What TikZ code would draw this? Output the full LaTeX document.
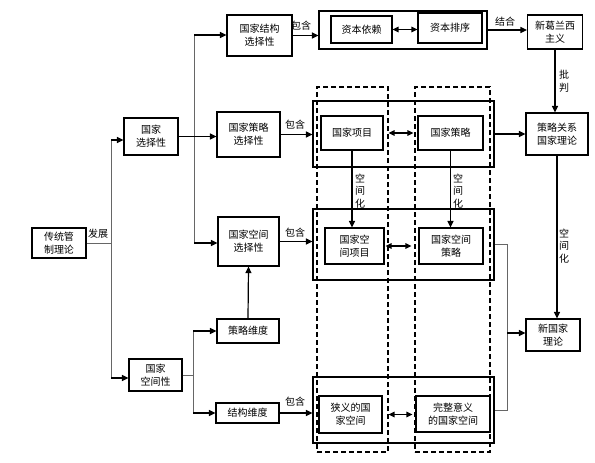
\documentclass[tikz,border=0pt]{standalone}
\usepackage{fontspec}
\setmainfont{Noto Sans CJK SC}
\usetikzlibrary{arrows.meta,calc}
\begin{document}
\begin{tikzpicture}[x=1pt,y=-1pt,
  box/.style={draw, line width=1.1pt, align=center, inner sep=0pt, font=\fontsize{10}{13}\selectfont},
  obox/.style={draw, line width=1.1pt, inner sep=0pt},
  dcol/.style={draw, line width=1.1pt, dash pattern=on 5pt off 3pt, inner sep=0pt},
  arr/.style={line width=1.2pt, -{Triangle[length=6.5pt,width=6pt]}},
  dbl/.style={line width=1.2pt, {Triangle[length=6pt,width=5.5pt]}-{Triangle[length=6pt,width=5.5pt]}},
  thinln/.style={draw=black!60, line width=0.7pt},
  lab/.style={font=\fontsize{10}{12}\selectfont, inner sep=0pt},
  vlab/.style={font=\fontsize{10}{12.5}\selectfont, inner sep=0pt, align=center}]
\useasboundingbox (0,0) rectangle (595,463);

% left part
\node[box, minimum width=54pt, minimum height=30pt] (trad) at (59,243) {传统管\\制理论};
\node[box, minimum width=54pt, minimum height=37pt] (gjxzx) at (151,136.5) {国家\\选择性};
\node[box, minimum width=53pt, minimum height=32pt] (gjkjx) at (155.5,375) {国家\\空间性};
\node[box, minimum width=65pt, minimum height=41pt] (jgxz) at (259.5,35.5) {国家结构\\选择性};
\node[box, minimum width=63pt, minimum height=45pt] (clxz) at (248.5,134.5) {国家策略\\选择性};
\node[box, minimum width=61pt, minimum height=49pt] (kjxz) at (248.5,241.5) {国家空间\\选择性};
\node[box, minimum width=62pt, minimum height=24pt] (clwd) at (248,331) {策略维度};
\node[box, minimum width=63pt, minimum height=20pt] (jgwd) at (247.5,413) {结构维度};

% outer boxes
\node[obox, minimum width=168pt, minimum height=38pt] (o1) at (403,30) {};
\node[obox, minimum width=181pt, minimum height=66pt] (o2) at (403.5,134) {};
\node[obox, minimum width=181pt, minimum height=71pt] (o3) at (403.5,244.5) {};
\node[obox, minimum width=181pt, minimum height=66pt] (o4) at (403.5,410) {};

% dashed columns
\node[dcol, minimum width=71pt, minimum height=365pt] (dc1) at (352.5,269.5) {};
\node[dcol, minimum width=75pt, minimum height=365pt] (dc2) at (452.5,269.5) {};

% inner boxes
\node[box, minimum width=61pt, minimum height=27pt] (zbyl) at (361.5,29.5) {资本依赖};
\node[box, minimum width=64pt, minimum height=30pt] (zbpx) at (450,28) {资本排序};
\node[box, minimum width=62pt, minimum height=34pt] (gjxm) at (352,133) {国家项目};
\node[box, minimum width=65pt, minimum height=34pt] (gjcl) at (450.5,133) {国家策略};
\node[box, minimum width=59pt, minimum height=36pt] (kjxm) at (354.5,246) {国家空\\间项目};
\node[box, minimum width=64pt, minimum height=36pt] (kjcl) at (451,246) {国家空间\\策略};
\node[box, minimum width=63pt, minimum height=37pt] (xy) at (350.5,414.5) {狭义的国\\家空间};
\node[box, minimum width=74pt, minimum height=36pt] (wz) at (453,414) {完整意义\\的国家空间};

% right part
\node[box, minimum width=55pt, minimum height=34pt] (xgl) at (555,32) {新葛兰西\\主义};
\node[box, minimum width=62pt, minimum height=42pt] (clgx) at (557,134) {策略关系\\国家理论};
\node[box, minimum width=54pt, minimum height=32pt] (xgj) at (553,335) {新国家\\理论};

% connectors left
\coordinate (j1) at (111,243);
\coordinate (j1t) at (111,140);
\coordinate (j1b) at (111,378);
\draw[thinln] (trad.east) -- (j1);
\draw[thinln] (j1t) -- (j1b);
\draw[arr] (j1t) -- (j1t -| gjxzx.west);
\draw[arr] (j1b) -- (j1b -| gjkjx.west);
\node[lab] (lfz) at (98,234) {发展};

\coordinate (j2t) at (194,35);
\coordinate (j2b) at (194,243);
\draw[thinln] (j2t) -- (j2b);
\draw[arr] (j2t) -- (j2t -| jgxz.west);
\draw[arr] (j2b) -- (j2b -| kjxz.west);
\draw[arr] (gjxzx.east) -- (gjxzx.east -| clxz.west);

\coordinate (j3) at (193,375);
\coordinate (j3t) at (193,331);
\coordinate (j3b) at (193,413);
\draw[thinln] (gjkjx.east) -- (j3);
\draw[thinln] (j3t) -- (j3b);
\draw[arr] (j3t) -- (j3t -| clwd.west);
\draw[arr] (j3b) -- (j3b -| jgwd.west);
\draw[arr] (clwd.north) -- (kjxz.south);

% include arrows
\draw[arr] (jgxz.east) -- (jgxz.east -| o1.west);
\node[lab] (lb1) at (301,26) {包含};
\draw[arr] (clxz.east) -- (clxz.east -| o2.west);
\node[lab] (lb2) at (295,125) {包含};
\draw[arr] (kjxz.east) -- (kjxz.east -| o3.west);
\node[lab] (lb3) at (295,233) {包含};
\draw[arr] (jgwd.east) -- (jgwd.east -| o4.west);
\node[lab] (lb4) at (295,402) {包含};

% inner double arrows
\draw[dbl] (zbyl.east) -- (zbyl.east -| zbpx.west);
\draw[dbl, shorten <=5pt, shorten >=4pt] (gjxm.east) -- (gjxm.east -| gjcl.west);
\draw[dbl, shorten <=1pt, shorten >=7pt] (kjxm.east) -- (kjxm.east -| kjcl.west);
\draw[dbl, shorten <=6pt, shorten >=3pt] (xy.east) -- (xy.east -| wz.west);

% spatialisation arrows
\draw[arr] (gjxm.south) -- (gjxm.south |- kjxm.north);
\node[vlab] (lk1) at (360,191) {空\\间\\化};
\draw[arr] (gjcl.south) -- (gjcl.south |- kjcl.north);
\node[vlab] (lk2) at (458,191) {空\\间\\化};

% right connectors
\draw[arr] (o1.east) -- (o1.east -| xgl.west);
\node[lab] (ljh) at (505,22) {结合};
\draw[arr] (xgl.south) -- (xgl.south |- clgx.north);
\node[vlab] (lpp) at (564,81) {批\\判};
\draw[arr] (o2.east) -- (o2.east -| clgx.west);
\draw[arr] (clgx.south) -- (clgx.south |- xgj.north);
\node[vlab] (lk3) at (564,246) {空\\间\\化};

\coordinate (j4) at (507,333);
\draw[thinln] (o3.east) -- (o3.east -| j4) -- (o4.east -| j4) -- (o4.east);
\draw[arr] (j4) -- (j4 -| xgj.west);
\end{tikzpicture}
\end{document}
